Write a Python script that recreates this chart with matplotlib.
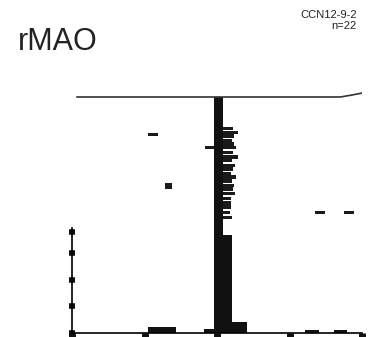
import matplotlib.pyplot as plt

plt.rcParams['font.family'] = ['Liberation Sans', 'DejaVu Sans']

# histogram bars: left edge, width, height (axis units)
bar_left = [1.05, 1.82, 1.96, 2.08, 2.21, 3.21, 3.61]
bar_width = [0.38, 0.14, 0.12, 0.13, 0.20, 0.20, 0.18]
bar_height = [0.23, 0.15, 9.08, 3.77, 0.42, 0.12, 0.12]

# stacked short dashes right of the main peak (y level, right end)
stack_y = [7.88, 7.73, 7.58, 7.42, 7.27, 7.12, 6.96, 6.77, 6.62, 6.46, 6.31,
           6.15, 6.0, 5.85, 5.69, 5.54, 5.38, 5.19, 5.0, 4.85, 4.65, 4.46]
stack_end = [2.22, 2.29, 2.23, 2.21, 2.23, 2.26, 2.22, 2.29, 2.21, 2.25, 2.22,
             2.19, 2.26, 2.21, 2.23, 2.22, 2.25, 2.19, 2.19, 2.19, 2.18, 2.21]

# isolated dashes: left, width, y level, thickness
dash_left = [1.05, 1.28, 1.84, 3.35, 3.75]
dash_width = [0.14, 0.10, 0.12, 0.14, 0.14]
dash_y = [7.65, 5.65, 7.12, 4.62, 4.62]
dash_h = [0.12, 0.25, 0.12, 0.12, 0.12]

# upper trace
line_x = [0.07, 3.7, 3.85, 4.0]
line_y = [9.08, 9.08, 9.15, 9.23]

fig = plt.figure(figsize=(3.7, 3.37), dpi=100)
ax = fig.add_axes([72 / 370, 4 / 337, 290 / 370, 249 / 337])

ax.bar(bar_left, bar_height, width=bar_width, align='edge', color='#111111', linewidth=0)
ax.barh(stack_y, [e - 2.08 for e in stack_end], left=2.08, height=0.12,
        color='#1a1a1a', linewidth=0)
ax.barh(dash_y, dash_width, left=dash_left, height=dash_h, color='#1a1a1a', linewidth=0)
ax.plot(line_x, line_y, color='#333333', linewidth=1.2)

ax.set_xlim(0, 4)
ax.set_ylim(0, 9.58)
for s in ['top', 'right']:
    ax.spines[s].set_visible(False)
ax.spines['left'].set_bounds(0, 4.04)
ax.spines['left'].set_linewidth(1.2)
ax.spines['bottom'].set_linewidth(1.2)
ax.set_xticks([0, 1, 2, 3, 4])
ax.set_yticks([0, 1.02, 2.04, 3.07, 3.9])
ax.set_xticklabels([])
ax.set_yticklabels([])
ax.tick_params(axis='x', direction='out', length=3, width=5, color='#111111')
ax.tick_params(axis='y', direction='inout', length=5, width=4, color='#111111')

fig.text(18 / 370, 1 - 50 / 337, 'rMAO', fontsize=22, color='#222222', ha='left', va='baseline')
fig.text(357 / 370, 1 - 18 / 337, 'CCN12-9-2', fontsize=8, color='#222222', ha='right', va='baseline')
fig.text(357 / 370, 1 - 29 / 337, 'n=22', fontsize=8, color='#222222', ha='right', va='baseline')

fig.savefig('out.png', dpi=100)
